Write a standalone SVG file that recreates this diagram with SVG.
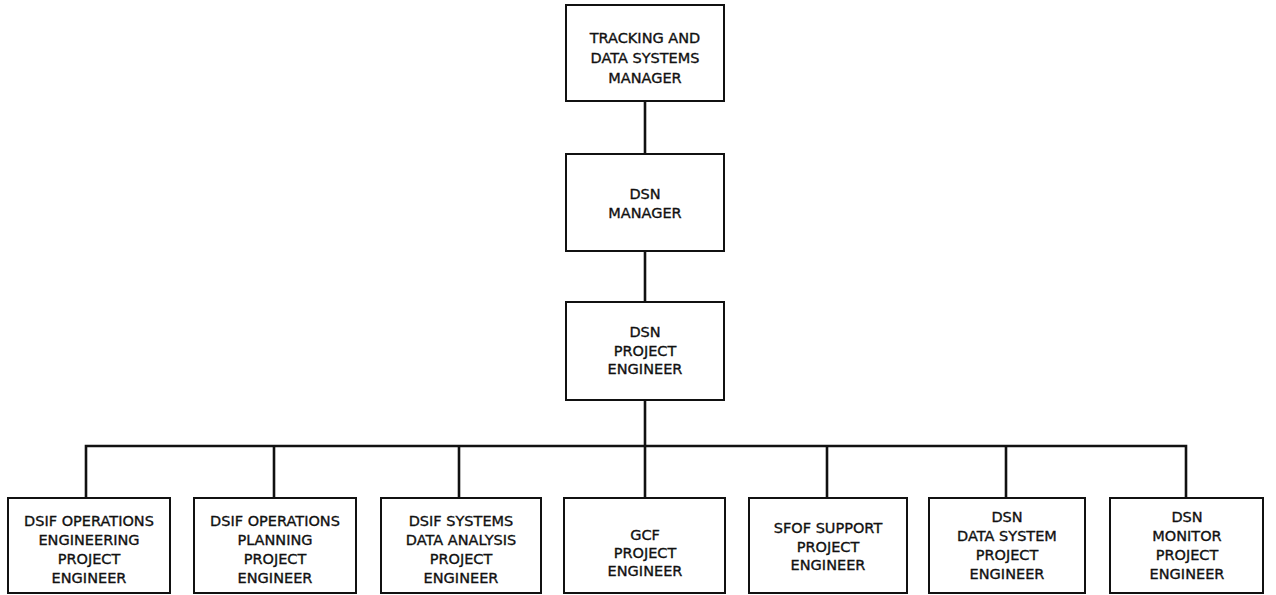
<svg xmlns="http://www.w3.org/2000/svg" width="1276" height="595" viewBox="0 0 1276 595">
<style>
.box{fill:#fff;stroke:#111;stroke-width:2}
.t{font-family:"DejaVu Sans",sans-serif;font-size:14.5px;fill:#111;stroke:#111;stroke-width:0.35;text-anchor:middle}
.c{fill:none;stroke:#111;stroke-width:2.6}
</style>
<rect width="1276" height="595" fill="#fff"/>
<g id="connectors">
<line class="c" x1="645" y1="101" x2="645" y2="154"/>
<line class="c" x1="645" y1="251" x2="645" y2="302"/>
<line class="c" x1="645" y1="400" x2="645" y2="498"/>
<polyline class="c" points="86,498 86,446 1186,446 1186,498"/>
<line class="c" x1="274" y1="446" x2="274" y2="498"/>
<line class="c" x1="459" y1="446" x2="459" y2="498"/>
<line class="c" x1="827" y1="446" x2="827" y2="498"/>
<line class="c" x1="1006" y1="446" x2="1006" y2="498"/>
</g>
<g id="tdsm">
<rect class="box" x="566" y="5" width="158" height="96"/>
<text class="t" x="645" y="43">TRACKING AND</text>
<text class="t" x="645" y="63">DATA SYSTEMS</text>
<text class="t" x="645" y="83">MANAGER</text>
</g>
<g id="dsnm">
<rect class="box" x="566" y="154" width="158" height="97"/>
<text class="t" x="645" y="199">DSN</text>
<text class="t" x="645" y="218">MANAGER</text>
</g>
<g id="dsnpe">
<rect class="box" x="566" y="302" width="158" height="98"/>
<text class="t" x="645" y="337">DSN</text>
<text class="t" x="645" y="356">PROJECT</text>
<text class="t" x="645" y="374">ENGINEER</text>
</g>
<g id="b1">
<rect class="box" x="8" y="498" width="162" height="95"/>
<text class="t" x="89" y="526">DSIF OPERATIONS</text>
<text class="t" x="89" y="545">ENGINEERING</text>
<text class="t" x="89" y="564">PROJECT</text>
<text class="t" x="89" y="583">ENGINEER</text>
</g>
<g id="b2">
<rect class="box" x="194" y="498" width="162" height="95"/>
<text class="t" x="275" y="526">DSIF OPERATIONS</text>
<text class="t" x="275" y="545">PLANNING</text>
<text class="t" x="275" y="564">PROJECT</text>
<text class="t" x="275" y="583">ENGINEER</text>
</g>
<g id="b3">
<rect class="box" x="381" y="498" width="160" height="95"/>
<text class="t" x="461" y="526">DSIF SYSTEMS</text>
<text class="t" x="461" y="545">DATA ANALYSIS</text>
<text class="t" x="461" y="564">PROJECT</text>
<text class="t" x="461" y="583">ENGINEER</text>
</g>
<g id="b4">
<rect class="box" x="564" y="498" width="161" height="95"/>
<text class="t" x="645" y="540">GCF</text>
<text class="t" x="645" y="558">PROJECT</text>
<text class="t" x="645" y="576">ENGINEER</text>
</g>
<g id="b5">
<rect class="box" x="749" y="498" width="158" height="95"/>
<text class="t" x="828" y="533">SFOF SUPPORT</text>
<text class="t" x="828" y="552">PROJECT</text>
<text class="t" x="828" y="570">ENGINEER</text>
</g>
<g id="b6">
<rect class="box" x="929" y="498" width="156" height="95"/>
<text class="t" x="1007" y="522">DSN</text>
<text class="t" x="1007" y="541">DATA SYSTEM</text>
<text class="t" x="1007" y="560">PROJECT</text>
<text class="t" x="1007" y="579">ENGINEER</text>
</g>
<g id="b7">
<rect class="box" x="1110" y="498" width="153" height="95"/>
<text class="t" x="1187" y="522">DSN</text>
<text class="t" x="1187" y="541">MONITOR</text>
<text class="t" x="1187" y="560">PROJECT</text>
<text class="t" x="1187" y="579">ENGINEER</text>
</g>
</svg>
